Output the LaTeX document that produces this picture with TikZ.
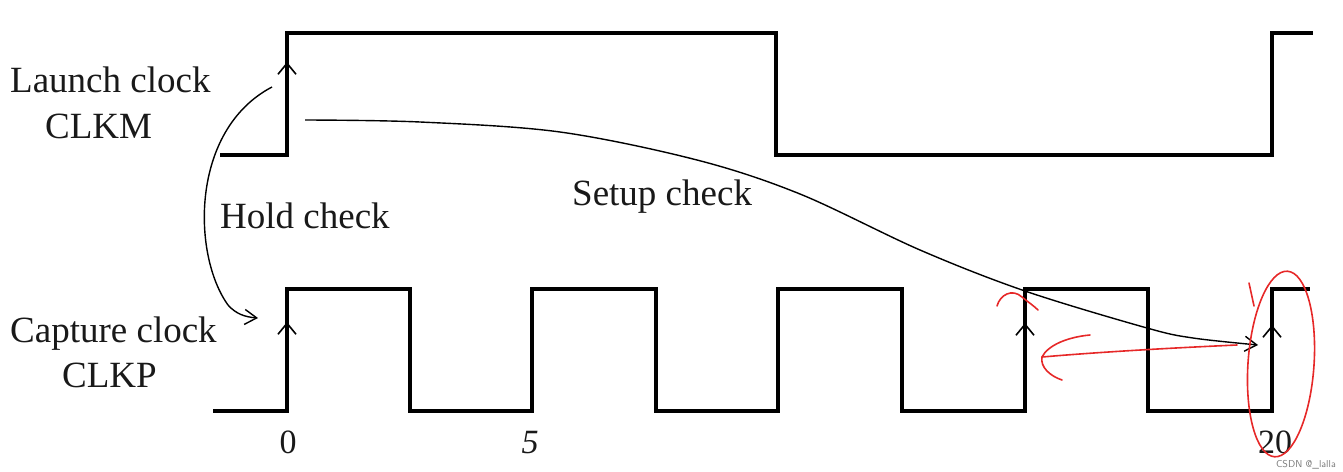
\documentclass[tikz,border=0pt]{standalone}
\usepackage{fontspec}
\setmainfont{Liberation Serif}
\usetikzlibrary{arrows.meta, positioning}
\definecolor{penred}{RGB}{230,40,40}
\definecolor{markgray}{RGB}{120,120,120}

\begin{document}
\begin{tikzpicture}[x=1pt, y=-1pt]
        \tikzstyle{label} = [anchor=base west, inner sep=0pt, font=\fontsize{37}{44}\selectfont, text=black!90]
        \tikzstyle{tick} = [anchor=base, inner sep=0pt, font=\fontsize{34}{40}\selectfont, text=black!90]
        \tikzstyle{wave} = [line width=4pt, line join=miter]
        \tikzstyle{edgemark} = [line width=1.6pt, -{Straight Barb[length=11pt, width=18pt]}]
        \tikzstyle{check} = [line width=1.4pt, ->, >={Straight Barb[length=12pt, width=15pt]}]
        \tikzstyle{pen} = [penred, line width=1.6pt, line cap=round]

        \useasboundingbox (0,0) rectangle (1343,471);

        % signal names
        \node (launch) [label] at (10,92) {Launch clock};
        \node (clkm) [label] at (45,138) {CLKM};
        \node (capture) [label] at (10,342) {Capture clock};
        \node (clkp) [label] at (62,387) {CLKP};
        \node (hold) [label] at (220,228) {Hold check};
        \node (setup) [label] at (572,205) {Setup check};

        % time axis
        \node (t0) [tick] at (288,453) {0};
        \node (t5) [tick] at (530,453) {\textit{5}};
        \node (t20) [tick] at (1275,453) {20};

        % launch clock CLKM
        \draw [wave] (220,155) -- (287,155) -- (287,33) -- (776,33) -- (776,155) -- (1272,155) -- (1272,33) -- (1313,33);

        % capture clock CLKP
        \draw [wave] (213,411) foreach \a/\b in {287/410, 532/656, 778/902, 1025/1148} {
                -- (\a,411) -- (\a,289) -- (\b,289) -- (\b,411)
            } -- (1272,411) -- (1272,289) -- (1310,289);

        % rising edges
        \coordinate (lrise) at (287,62);
        \coordinate (crise0) at (287,322);
        \coordinate (crise3) at (1025,323);
        \coordinate (crise4) at (1272,325);
        \foreach \e in {lrise, crise0, crise3, crise4}
            \draw [edgemark] ([yshift=-14pt]\e) -- (\e);

        % checks
        \coordinate (holdstart) at (272,87);
        \coordinate (holdend) at (258,318);
        \draw [check] (holdstart) .. controls (190,130) and (192,255) .. (228,305) .. controls (236,314) and (245,317) .. (holdend);

        \coordinate (setupstart) at (305,120);
        \coordinate (setupend) at (1258,345);
        \draw [check] plot [smooth, tension=0.55] coordinates {(setupstart) (420,122) (560,132) (697,160) (800,194) (920,250) (1025,291) (1147,328) (1193,338) (setupend)};

        % hand marks
        \draw [pen] (997,306) .. controls (1000,295) and (1012,288) .. (1022,297) .. controls (1028,302) and (1034,306) .. (1038,310);
        \coordinate (penfrom) at (1237,345);
        \coordinate (pento) at (1042,357);
        \draw [pen] (penfrom) .. controls (1170,348) and (1100,352) .. (pento);
        \draw [pen] (1090,335) .. controls (1068,337) and (1048,345) .. (pento) .. controls (1040,367) and (1050,376) .. (1062,380);
        \draw [pen, rotate around={-4:(1281,364)}] (1281,364) ellipse [x radius=33pt, y radius=93pt];
        \draw [pen] (1249,283) -- (1254,306);

        % watermark
        \node (mark) [anchor=base east, inner sep=0pt, font=\fontsize{10}{12}\selectfont\sffamily, text=markgray] at (1336,467) {CSDN @\_lalla};
    \end{tikzpicture}
\end{document}
